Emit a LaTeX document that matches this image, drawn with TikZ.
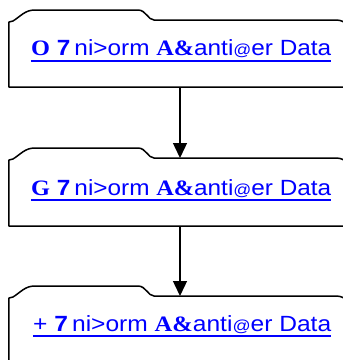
\documentclass[tikz,border=0pt]{standalone}
\usepackage{fontspec}
\usepackage{graphicx}
\setmainfont{Liberation Sans}
\newfontfamily\serifface{Liberation Serif}
\usetikzlibrary{arrows.meta}
\definecolor{linkblue}{RGB}{0,0,255}

% folder-shaped frame: #1 = top of body, #2 = bottom
\newcommand{\folderbox}[2]{%
  \draw[frame] (9,#2) -- (9,#1+2) -- (13,#1+1)
    .. controls (21,#1-4) and (25,#1-10) .. (35,#1-10)
    -- (138,#1-10)
    .. controls (146,#1-10) and (148,#1) .. (154,#1)
    -- (336,#1) .. controls (341,#1) and (346,#1+2) .. (346,#1+6)
    -- (346,#2) -- cycle;}

% link caption, stretched to the underline's width
\newcommand{\linktext}[2]{%
  \resizebox{#2}{\height}{#1\,ni>orm {\serifface\bfseries A\&}anti{\fontsize{16}{16}\selectfont @}er Data}}

\tikzset{
  frame/.style={line width=1.5pt, line join=round},
  label/.style={anchor=base west, inner sep=0pt, text=linkblue,
    font=\fontsize{22}{22}\selectfont},
  uline/.style={draw=linkblue, line width=2pt},
  flow/.style={line width=1.4pt, -{Triangle[length=15pt,width=14pt]}}
}

\begin{document}
\begin{tikzpicture}[x=1pt,y=-1pt]
  \useasboundingbox (0,0) rectangle (343,360);
  \begin{scope}
    \clip (0,0) rectangle (343,360);

    \folderbox{20}{87}
    \folderbox{158}{226}
    \folderbox{296}{380}

    \node[label] (t1) at (31,55.5)
      {\linktext{{\serifface\bfseries O} {\bfseries 7}}{300pt}};
    \node[label] (t2) at (31,195)
      {\linktext{{\serifface\bfseries G} {\bfseries 7}}{300pt}};
    \node[label] (t3) at (33,331.5)
      {\linktext{+ {\bfseries 7}}{298pt}};

    \draw[uline] ([yshift=-5pt]t1.base west) -- ([yshift=-5pt]t1.base east);
    \draw[uline] ([yshift=-5pt]t2.base west) -- ([yshift=-5pt]t2.base east);
    \draw[uline] ([yshift=-4pt]t3.base west) -- ([yshift=-4pt]t3.base east);

    \coordinate (b1) at (180,87);
    \coordinate (b2top) at (180,158);
    \coordinate (b2) at (180,226);
    \coordinate (b3top) at (180,296);
    \draw[flow] (b1) -- (b2top);
    \draw[flow] (b2) -- (b3top);
  \end{scope}
\end{tikzpicture}
\end{document}
